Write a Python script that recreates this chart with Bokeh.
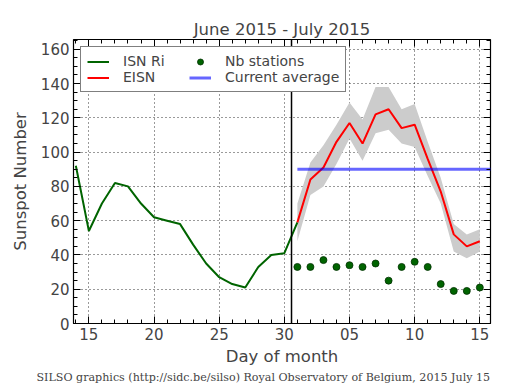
from bokeh.plotting import figure
from bokeh.models import (ColumnDataSource, FixedTicker, SingleIntervalTicker, LinearAxis,
                          Legend, LegendItem, Span, Title, Range1d)
from bokeh.embed import file_html
from bokeh.resources import INLINE

# ---- data (day index: June 1 = 1, July 1 = 31) ----
isn_days = list(range(14, 32))
isn_vals = [92, 54, 70, 82, 80, 70, 62, 60, 58, 46, 35, 27, 23, 21, 33, 40, 41, 59]

eisn_days = list(range(31, 46))
eisn_vals = [59, 84, 91, 106, 117, 105, 122, 125, 114, 116, 96, 77, 52, 45, 48]
eisn_upper = [70, 94, 104, 116, 129, 119, 138, 138, 125, 128, 106, 85, 58, 52, 55]
eisn_lower = [48, 75, 80, 93, 108, 95, 111, 113, 105, 103, 86, 70, 42, 38, 42]
stations = [33, 33, 37, 33, 34, 33, 35, 25, 33, 36, 33, 23, 19, 19, 21]

avg_days = [31, 47]
avg_vals = [90, 90]
today_marker = 30.55

xtick_vals = [15, 20, 25, 30, 35, 40, 45]
xtick_labels = ["15", "20", "25", "30", "05", "10", "15"]

FONT = "DejaVu Sans"

p = figure(frame_width=417, frame_height=284, output_backend="svg", toolbar_location=None,
           x_range=Range1d(13.82, 45.82), y_range=Range1d(0, 165.7),
           min_border_left=73, min_border_right=17, min_border_top=39, min_border_bottom=59,
           background_fill_color="white", border_fill_color="white")

p.title.text = "June 2015 - July 2015"
p.title.align = "center"
p.title.text_font = FONT
p.title.text_font_size = "16.5px"
p.title.text_font_style = "normal"
p.title.standoff = 2

p.outline_line_color = "black"
p.outline_line_width = 1.2

# band
band_src = ColumnDataSource(dict(x=eisn_days, lo=eisn_lower, hi=eisn_upper))
p.varea(x="x", y1="lo", y2="hi", source=band_src, fill_color="#cccccc")

r_isn = p.line(isn_days, isn_vals, line_color="#006400", line_width=2)
r_eisn = p.line(eisn_days, eisn_vals, line_color="#ff0000", line_width=2)
r_avg = p.line(avg_days, avg_vals, line_color="#0000ff", line_alpha=0.6, line_width=3)
r_nb = p.scatter(eisn_days, stations, size=7, fill_color="#006400", line_color="#003000", line_width=0.8)

p.add_layout(Span(location=today_marker, dimension="height", line_color="black", line_width=1.5))

# axes
xt = FixedTicker(ticks=xtick_vals, minor_ticks=list(range(13, 47)))
yt = SingleIntervalTicker(interval=20, num_minor_ticks=4)

def style(ax, labels=True):
    ax.axis_line_color = None
    ax.major_tick_in = 7
    ax.major_tick_out = 0
    ax.minor_tick_in = 4
    ax.minor_tick_out = 0
    ax.major_tick_line_color = "black"
    ax.minor_tick_line_color = "black"
    ax.major_label_text_font = FONT
    ax.major_label_text_font_size = "15px"
    ax.axis_label_text_font = FONT
    ax.axis_label_text_font_size = "16.5px"
    ax.axis_label_text_font_style = "normal"
    if not labels:
        ax.major_label_text_font_size = "1px"
        ax.major_label_text_color = None
        ax.major_label_standoff = 0

xa = p.xaxis[0]
xa.ticker = xt
xa.major_label_overrides = {v: l for v, l in zip(xtick_vals, xtick_labels)}
xa.axis_label = "Day of month"
style(xa)
xa.major_label_standoff = 4
xa.axis_label_standoff = 4

ya = p.yaxis[0]
ya.ticker = yt
ya.axis_label = "Sunspot Number"
style(ya)
ya.major_label_standoff = 4
ya.axis_label_standoff = 8

top = LinearAxis(ticker=xt)
style(top, labels=False)
p.add_layout(top, "above")
right = LinearAxis(ticker=yt)
style(right, labels=False)
p.add_layout(right, "right")

p.xgrid.ticker = xt
p.ygrid.ticker = yt
for g in (p.xgrid[0], p.ygrid[0]):
    g.grid_line_color = "black"
    g.grid_line_width = 0.8
    g.grid_line_dash = "1 3"

legend = Legend(items=[
    LegendItem(label="ISN Ri", renderers=[r_isn]),
    LegendItem(label="EISN", renderers=[r_eisn]),
    LegendItem(label="Nb stations", renderers=[r_nb]),
    LegendItem(label="Current average", renderers=[r_avg]),
], location="top_left", ncols=2)
legend.margin = 7
legend.padding = 6
legend.spacing = 0
legend.glyph_width = 22
legend.glyph_height = 15
legend.label_height = 15
legend.label_width = 66
legend.label_standoff = 14
legend.label_text_font = FONT
legend.label_text_font_size = "14px"
legend.border_line_color = "black"
legend.border_line_width = 1.2
legend.background_fill_alpha = 1
p.add_layout(legend, "center")

footer = Title(text="SILSO graphics (http://sidc.be/silso) Royal Observatory of Belgium, 2015 July 15",
               align="left", offset=-37, text_font="DejaVu Serif", text_font_size="11.1px",
               text_font_style="normal", standoff=0)
p.add_layout(footer, "below")

open("out.html", "w").write(file_html(p, INLINE))
